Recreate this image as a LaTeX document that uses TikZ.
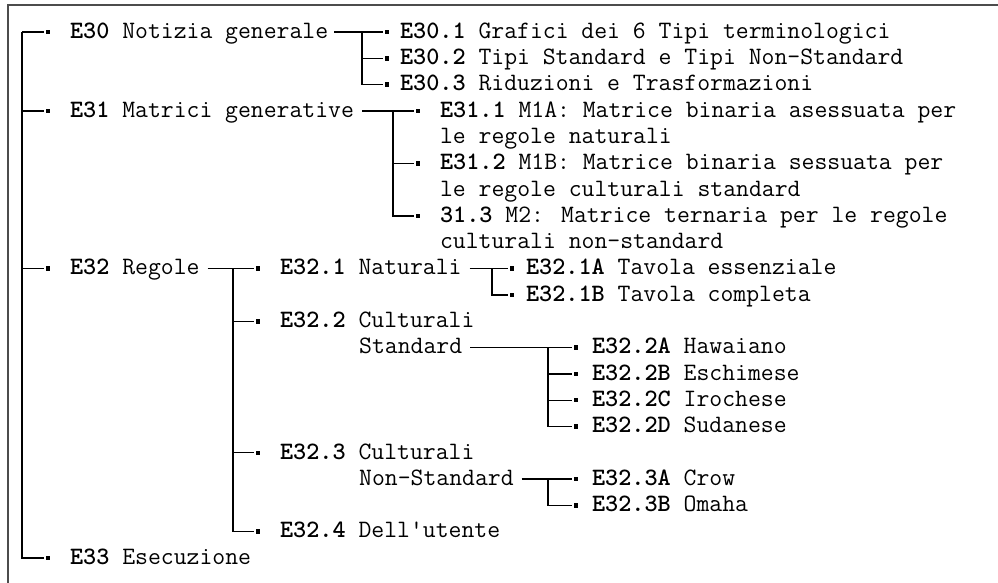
\documentclass[tikz,border=0pt]{standalone}
\usepackage{fontspec}

\begin{document}
\begin{tikzpicture}[x=1pt,y=-1pt,line width=1.3pt,
  txt/.style={anchor=west,inner sep=0pt,outer sep=0pt,text height=12.4pt,text depth=0pt,font=\ttfamily\fontsize{25}{28}\selectfont},
  bul/.style={fill=black,minimum size=4.5pt,inner sep=0pt,outer sep=2pt}]
\useasboundingbox (0,0) rectangle (998,583);

\draw[line width=1.6pt,black!70] (8,583) -- (8,5) -- (998,5);

\node[bul] (b30) at (48,32) {};
\node[bul] (b31) at (48,110.9) {};
\node[bul] (b32) at (48,268.7) {};
\node[bul] (b33) at (48,558) {};
\node[txt] (t30) at (70,32) {\textbf{E30} Notizia generale};
\node[txt] (t31) at (70,110.9) {\textbf{E31} Matrici generative};
\node[txt] (t32) at (70,268.7) {\textbf{E32} Regole};
\node[txt] (t33) at (70,558) {\textbf{E33} Esecuzione};

\node[bul] (b301) at (387,32) {};
\node[bul] (b302) at (387,58.3) {};
\node[bul] (b303) at (387,84.6) {};
\node[txt] (t301) at (400,32) {\textbf{E30.1} Grafici dei 6 Tipi terminologici};
\node[txt] (t302) at (400,58.3) {\textbf{E30.2} Tipi Standard e Tipi Non-Standard};
\node[txt] (t303) at (400,84.6) {\textbf{E30.3} Riduzioni e Trasformazioni};

\node[bul] (b311) at (418,110.9) {};
\node[bul] (b312) at (418,163.5) {};
\node[bul] (b313) at (418,216.1) {};
\node[txt] (t311) at (440,110.9) {\textbf{E31.1} M1A: Matrice binaria asessuata per};
\node[txt] (t311b) at (440,137.2) {le regole naturali};
\node[txt] (t312) at (440,163.5) {\textbf{E31.2} M1B: Matrice binaria sessuata per};
\node[txt] (t312b) at (440,189.8) {le regole culturali standard};
\node[txt] (t313) at (440,216.1) {\textbf{31.3} M2: Matrice ternaria per le regole};
\node[txt] (t313b) at (440,242.4) {culturali non-standard};

\node[bul] (b321) at (258,268.7) {};
\node[bul] (b322) at (258,321.3) {};
\node[bul] (b323) at (258,452.8) {};
\node[bul] (b324) at (258,531.7) {};
\node[txt] (t321) at (280,268.7) {\textbf{E32.1} Naturali};
\node[txt] (t322) at (280,321.3) {\textbf{E32.2} Culturali};
\node[txt] (t322b) at (359.2,347.6) {Standard};
\node[txt] (t323) at (280,452.8) {\textbf{E32.3} Culturali};
\node[txt] (t323b) at (359.2,479.1) {Non-Standard};
\node[txt] (t324) at (280,531.7) {\textbf{E32.4} Dell'utente};

\node[bul] (b3211) at (512,268.7) {};
\node[bul] (b3212) at (512,295) {};
\node[txt] (t3211) at (526,268.7) {\textbf{E32.1A} Tavola essenziale};
\node[txt] (t3212) at (526,295) {\textbf{E32.1B} Tavola completa};

\node[bul] (b3221) at (576,347.6) {};
\node[bul] (b3222) at (576,373.9) {};
\node[bul] (b3223) at (576,400.2) {};
\node[bul] (b3224) at (576,426.5) {};
\node[txt] (t3221) at (592,347.6) {\textbf{E32.2A} Hawaiano};
\node[txt] (t3222) at (592,373.9) {\textbf{E32.2B} Eschimese};
\node[txt] (t3223) at (592,400.2) {\textbf{E32.2C} Irochese};
\node[txt] (t3224) at (592,426.5) {\textbf{E32.2D} Sudanese};

\node[bul] (b3231) at (576,479.1) {};
\node[bul] (b3232) at (576,505.4) {};
\node[txt] (t3231) at (592,479.1) {\textbf{E32.3A} Crow};
\node[txt] (t3232) at (592,505.4) {\textbf{E32.3B} Omaha};

\coordinate (v0) at (22,32);
\coordinate (v30) at (362,32);
\coordinate (v31) at (393,110.9);
\coordinate (v32) at (233,268.7);
\coordinate (v321) at (492,268.7);
\coordinate (v322) at (548,347.6);
\coordinate (v323) at (548,479.1);

\draw (v0) |- (b30);
\draw (v0) |- (b31);
\draw (v0) |- (b32);
\draw (v0) |- (b33);

\draw ([xshift=6pt]t30.east) -- (b301);
\draw (v30) |- (b302);
\draw (v30) |- (b303);

\draw ([xshift=8pt]t31.east) -- (b311);
\draw (v31) |- (b312);
\draw (v31) |- (b313);

\draw ([xshift=8pt]t32.east) -- (b321);
\draw (v32) |- (b322);
\draw (v32) |- (b323);
\draw (v32) |- (b324);

\draw ([xshift=8pt]t321.east) -- (b3211);
\draw (v321) |- (b3212);

\draw ([xshift=8pt]t322b.east) -- (b3221);
\draw (v322) |- (b3222);
\draw (v322) |- (b3223);
\draw (v322) |- (b3224);

\draw ([xshift=8pt]t323b.east) -- (b3231);
\draw (v323) |- (b3232);
\end{tikzpicture}
\end{document}
